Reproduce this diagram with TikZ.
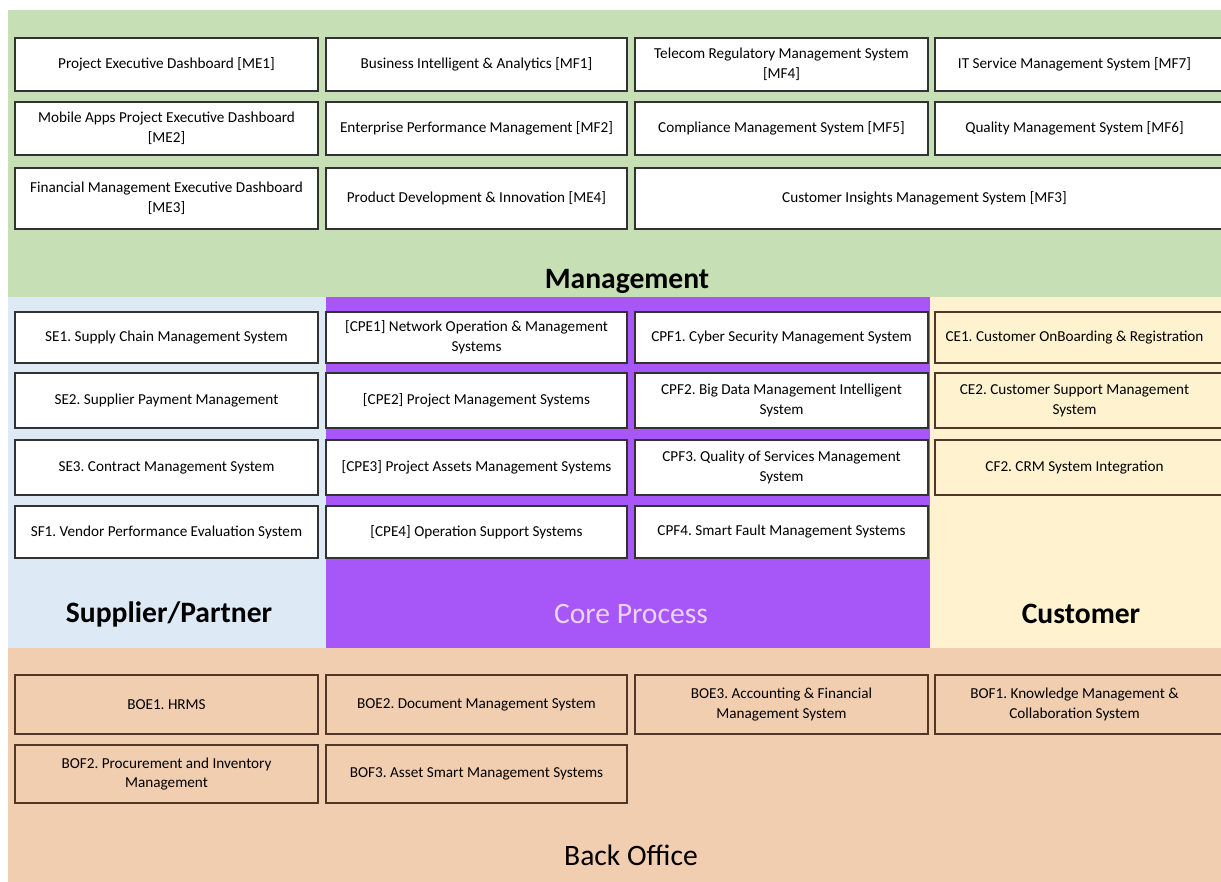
\documentclass[tikz,border=0pt]{standalone}
\usepackage{fontspec}
\setmainfont{Carlito}
\usepackage{tikz}
\frenchspacing
\definecolor{mgmtgreen}{RGB}{199,223,181}
\definecolor{suppblue}{RGB}{222,233,246}
\definecolor{corepurple}{RGB}{167,86,248}
\definecolor{custcream}{RGB}{255,242,206}
\definecolor{backpeach}{RGB}{242,206,177}
\definecolor{boxline}{RGB}{50,50,50}
\definecolor{brownline}{RGB}{80,55,40}
\definecolor{corelabel}{RGB}{232,212,255}
% Kasten: Stil, Name, x1, y1, x2, y2, Text (Pixelkoordinaten)
\newcommand{\sysbox}[7][sys]{%
	\node[#1, minimum width={(#5-#3)*0.5pt}, minimum height={(#6-#4)*0.5pt}]
		(#2) at ({(#3+#5)/2},{(#4+#6)/2}) {#7};}

\begin{document}
\begin{tikzpicture}[x=0.5pt, y=-0.5pt,
		sys/.style={draw=boxline, line width=0.9pt, fill=white, inner sep=0pt, align=center,
			font=\fontsize{7.6}{9.8}\selectfont, text=black},
		custsys/.style={sys, draw=brownline, fill=custcream},
		backsys/.style={sys, draw=brownline, fill=backpeach},
		layer/.style={font=\fontsize{14.8}{17}\selectfont\bfseries, text=black},
		layerthin/.style={font=\fontsize{14.8}{17}\selectfont}]
	% Bildbereich
	\useasboundingbox (0,0) rectangle (1221,882);
	\clip (0,0) rectangle (1221,882);
	% Schichten
	\fill[mgmtgreen] (8,10) rectangle (1230,297);
	\fill[suppblue] (8,297) rectangle (326,648);
	\fill[corepurple] (326,297) rectangle (930,648);
	\fill[custcream] (930,297) rectangle (1230,648);
	\fill[backpeach] (8,648) rectangle (1230,882);
	% Management
	\sysbox{me1}{15}{38}{318}{91}{Project Executive Dashboard [ME1]}
	\sysbox{mf1}{326}{38}{627}{91}{Business Intelligent \& Analytics [MF1]}
	\sysbox{mf4}{635}{38}{928}{91}{Telecom Regulatory Management System\\{}[MF4]}
	\sysbox{mf7}{935}{38}{1230}{91}{\hspace*{-8pt}IT Service Management System [MF7]}
	\sysbox{me2}{15}{102}{318}{155}{Mobile Apps Project Executive Dashboard\\{}[ME2]}
	\sysbox{mf2}{326}{102}{627}{155}{Enterprise Performance Management [MF2]}
	\sysbox{mf5}{635}{102}{928}{155}{Compliance Management System [MF5]}
	\sysbox{mf6}{935}{102}{1230}{155}{\hspace*{-8pt}Quality Management System [MF6]}
	\sysbox{me3}{15}{168}{318}{229}{Financial Management Executive Dashboard\\{}[ME3]}
	\sysbox{me4}{326}{168}{627}{229}{Product Development \& Innovation [ME4]}
	\sysbox{mf3}{635}{168}{1230}{229}{\hspace*{-8pt}Customer Insights Management System [MF3]}
	\node[layer] (mgmt) at (627,281) {Management};
	% Supplier/Partner
	\sysbox{se1}{15}{312}{318}{363}{SE1. Supply Chain Management System}
	\sysbox{se2}{15}{373}{318}{428}{SE2. Supplier Payment Management}
	\sysbox{se3}{15}{440}{318}{495}{SE3. Contract Management System}
	\sysbox{sf1}{15}{506}{318}{558}{SF1. Vendor Performance Evaluation System}
	\node[layer] (supp) at (169,614) {Supplier/Partner};
	% Core Process
	\sysbox{cpe1}{326}{312}{627}{363}{[CPE1] Network Operation \& Management\\Systems}
	\sysbox{cpe2}{326}{373}{627}{428}{[CPE2] Project Management Systems}
	\sysbox{cpe3}{326}{440}{627}{495}{[CPE3] Project Assets Management Systems}
	\sysbox{cpe4}{326}{506}{627}{558}{[CPE4] Operation Support Systems}
	\sysbox{cpf1}{635}{312}{928}{363}{CPF1. Cyber Security Management System}
	\sysbox{cpf2}{635}{373}{928}{428}{CPF2. Big Data Management Intelligent\\System}
	\sysbox{cpf3}{635}{440}{928}{495}{CPF3. Quality of Services Management\\System}
	\sysbox{cpf4}{635}{506}{928}{558}{CPF4. Smart Fault Management Systems}
	\node[layerthin, text=corelabel] (core) at (631,614) {Core Process};
	% Customer
	\sysbox[custsys]{ce1}{935}{312}{1230}{363}{\hspace*{-8pt}CE1. Customer OnBoarding \& Registration}
	\sysbox[custsys]{ce2}{935}{373}{1230}{428}{\hspace*{-8pt}CE2. Customer Support Management\\\hspace*{-8pt}System}
	\sysbox[custsys]{cf2}{935}{440}{1230}{495}{\hspace*{-8pt}CF2. CRM System Integration}
	\node[layer] (cust) at (1081,614) {Customer};
	% Back Office
	\sysbox[backsys]{boe1}{15}{675}{318}{734}{BOE1. HRMS}
	\sysbox[backsys]{boe2}{326}{675}{627}{734}{BOE2. Document Management System}
	\sysbox[backsys]{boe3}{635}{675}{928}{734}{BOE3. Accounting \& Financial\\Management System}
	\sysbox[backsys]{bof1}{935}{675}{1230}{734}{\hspace*{-8pt}BOF1. Knowledge Management \&\\\hspace*{-8pt}Collaboration System}
	\sysbox[backsys]{bof2}{15}{745}{318}{803}{BOF2. Procurement and Inventory\\Management}
	\sysbox[backsys]{bof3}{326}{745}{627}{803}{BOF3. Asset Smart Management Systems}
	\node[layerthin] (back) at (631,855) {Back Office};
\end{tikzpicture}
\end{document}
